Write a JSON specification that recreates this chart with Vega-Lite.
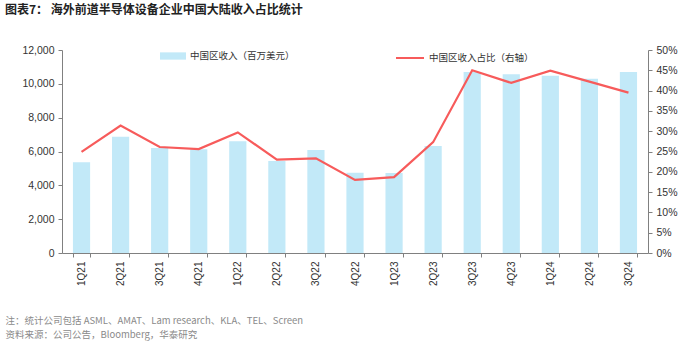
{
  "$schema": "https://vega.github.io/schema/vega-lite/v6.json",
  "width": 586,
  "height": 203,
  "autosize": {"type": "none"},
  "padding": {"left": 62, "top": 50, "right": 52, "bottom": 89},
  "background": "white",
  "config": {
    "view": {"stroke": null},
    "font": "Liberation Sans"
  },
  "title": {
    "text": "图表7：  海外前道半导体设备企业中国大陆收入占比统计",
    "anchor": "start",
    "frame": "group",
    "dx": -57,
    "offset": 26,
    "font": "Noto Sans CJK SC",
    "fontSize": 12,
    "fontWeight": "bold",
    "color": "#222222"
  },
  "data": {
    "values": [
      {"q": "1Q21", "rev": 5360, "share": 24.9},
      {"q": "2Q21", "rev": 6870, "share": 31.4},
      {"q": "3Q21", "rev": 6200, "share": 26.1},
      {"q": "4Q21", "rev": 6130, "share": 25.6},
      {"q": "1Q22", "rev": 6600, "share": 29.7},
      {"q": "2Q22", "rev": 5440, "share": 23.0},
      {"q": "3Q22", "rev": 6090, "share": 23.3},
      {"q": "4Q22", "rev": 4750, "share": 18.0},
      {"q": "1Q23", "rev": 4730, "share": 18.7},
      {"q": "2Q23", "rev": 6320, "share": 27.3},
      {"q": "3Q23", "rev": 10700, "share": 45.0},
      {"q": "4Q23", "rev": 10560, "share": 41.9},
      {"q": "1Q24", "rev": 10480, "share": 44.9},
      {"q": "2Q24", "rev": 10300, "share": 42.2},
      {"q": "3Q24", "rev": 10700, "share": 39.5}
    ]
  },
  "encoding": {
    "x": {
      "field": "q",
      "type": "nominal",
      "sort": null,
      "scale": {"paddingInner": 0.56, "paddingOuter": 0.28},
      "axis": {
        "title": ["注：统计公司包括 ASML、AMAT、Lam research、KLA、TEL、Screen", "资料来源：公司公告，Bloomberg，华泰研究"],
        "titleFont": "Noto Sans CJK SC",
        "titleFontSize": 9.5,
        "titleFontWeight": "normal",
        "titleColor": "#8a8a8a",
        "titleAnchor": "start",
        "titleAlign": "left",
        "titleBaseline": "top",
        "titleX": -57,
        "titleY": 62,
        "titleLineHeight": 14,
        "labelAngle": -90,
        "labelAlign": "right",
        "labelBaseline": "middle",
        "labelPadding": 4,
        "labelFontSize": 10,
        "labelColor": "#333333",
        "tickBand": "extent",
        "tickSize": 4,
        "tickColor": "#808080",
        "domainColor": "#808080",
        "grid": false
      }
    }
  },
  "layer": [
    {
      "mark": {"type": "bar", "stroke": null},
      "encoding": {
        "y": {
          "field": "rev",
          "type": "quantitative",
          "scale": {"domain": [0, 12000]},
          "axis": {
            "title": null,
            "orient": "left",
            "values": [0, 2000, 4000, 6000, 8000, 10000, 12000],
            "format": ",d",
            "grid": false,
            "tickSize": 4,
            "tickColor": "#808080",
            "domainColor": "#808080",
            "labelFontSize": 10.5,
            "labelColor": "#333333",
            "labelPadding": 4
          }
        },
        "color": {
          "datum": "中国区收入（百万美元）",
          "scale": {"range": ["#C2E9F8"]},
          "legend": {
            "title": null,
            "orient": "none",
            "legendX": 98,
            "legendY": -7,
            "symbolType": "M-1,-0.28L1,-0.28L1,0.28L-1,0.28Z",
            "symbolSize": 676,
            "symbolStrokeWidth": 0,
            "labelFont": "Noto Sans CJK SC",
            "labelFontSize": 9.5,
            "labelColor": "#333333"
          }
        }
      }
    },
    {
      "mark": {"type": "line", "strokeWidth": 2.2},
      "encoding": {
        "y": {
          "field": "share",
          "type": "quantitative",
          "scale": {"domain": [0, 50]},
          "axis": {
            "title": null,
            "orient": "right",
            "values": [0, 5, 10, 15, 20, 25, 30, 35, 40, 45, 50],
            "labelExpr": "datum.value + '%'",
            "grid": false,
            "tickSize": 4,
            "tickColor": "#808080",
            "domainColor": "#808080",
            "labelFontSize": 10.5,
            "labelColor": "#333333",
            "labelPadding": 4
          }
        },
        "stroke": {
          "datum": "中国区收入占比（右轴）",
          "scale": {"range": ["#F75B5B"]},
          "legend": {
            "title": null,
            "orient": "none",
            "legendX": 333,
            "legendY": -7,
            "symbolType": "stroke",
            "symbolSize": 784,
            "symbolStrokeWidth": 2,
            "labelFont": "Noto Sans CJK SC",
            "labelFontSize": 9.5,
            "labelColor": "#333333"
          }
        }
      }
    }
  ],
  "resolve": {"scale": {"y": "independent", "color": "independent", "stroke": "independent"}}
}
